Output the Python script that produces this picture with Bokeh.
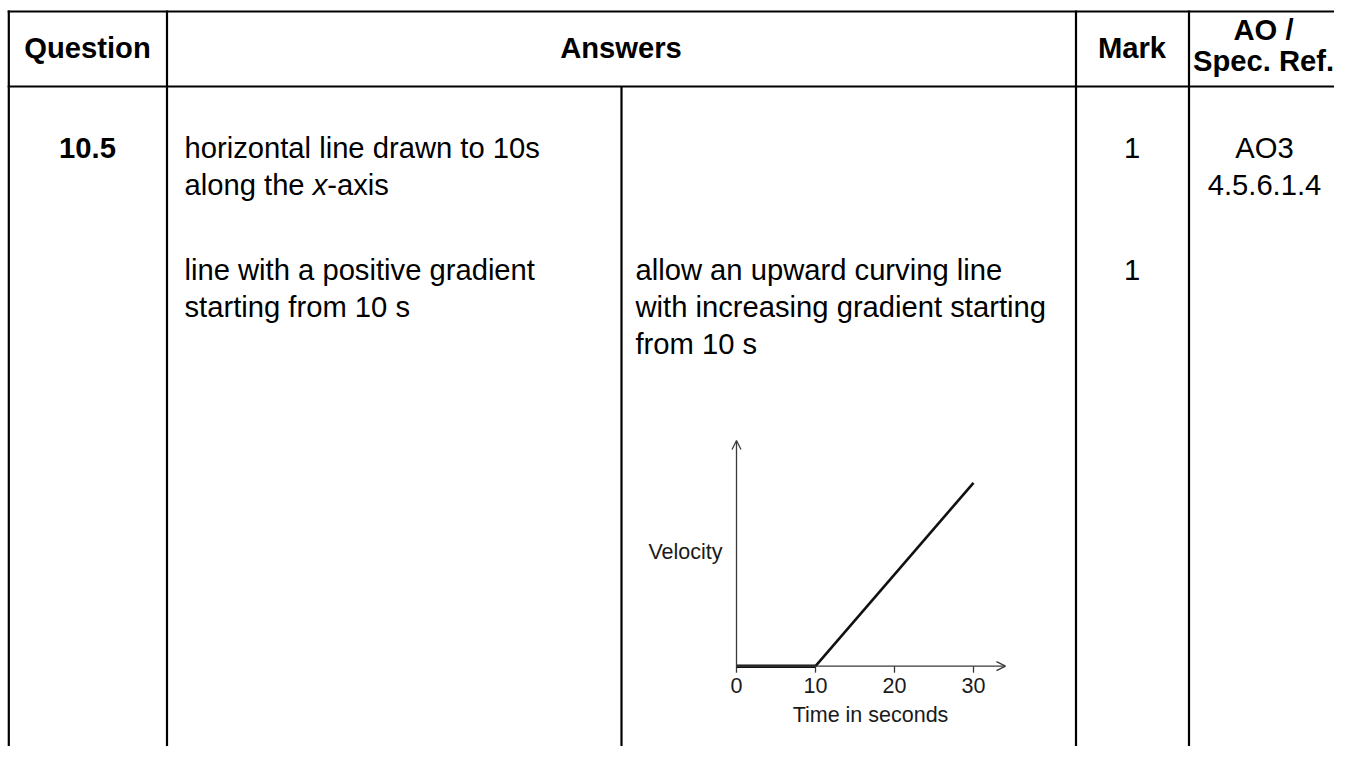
from bokeh.plotting import figure
from bokeh.models import Range1d, Arrow, OpenHead
from bokeh.core.properties import value
from bokeh.embed import file_html
from bokeh.resources import INLINE

# ---------------- data ----------------
header_labels = ["Question", "Answers", "Mark"]
header_ao = ["AO /", "Spec. Ref."]
question_id = "10.5"
answer1_lines = ["horizontal line drawn to 10s"]
answer1_line2 = ["along the ", "x", "-axis"]
answer2_lines = ["line with a positive gradient", "starting from 10 s"]
guidance_lines = ["allow an upward curving line",
                  "with increasing gradient starting",
                  "from 10 s"]
marks = ["1", "1"]
ao_lines = ["AO3", "4.5.6.1.4"]

# mini velocity-time sketch
time_s = [0, 10, 30]
velocity = [0, 0, 20]
time_ticks = [0, 10, 20, 30]
time_tick_labels = ["0", "10", "20", "30"]
x_title = "Time in seconds"
y_title = "Velocity"

# ---------------- layout ----------------
W, H = 1334, 746
X0, X1 = 0, W
Y0, Y1 = 0, H

FONT = value("Liberation Sans")
FS = "29.2px"
FS_SMALL = "21.5px"

p = figure(width=W, height=H, output_backend="svg", toolbar_location=None,
           x_range=Range1d(X0, X1), y_range=Range1d(Y1, Y0),
           x_axis_type=None, y_axis_type=None, min_border=0,
           outline_line_color=None, background_fill_color="white",
           border_fill_color="white")
p.grid.visible = False

# table rules
LW = 2.2
h_y = [11, 86]
p.segment(x0=[7.2] * 2, y0=h_y, x1=[1400] * 2, y1=h_y, line_color="black", line_width=LW)
v_x = [8.3, 166.5, 1075.5, 1188.5]
p.segment(x0=v_x, y0=[10] * 4, x1=v_x, y1=[800] * 4, line_color="black", line_width=LW)
p.segment(x0=[621], y0=[86], x1=[621], y1=[800], line_color="black", line_width=LW)


def txt(x, y, s, align="left", bold=False, italic=False, size=FS, color="black"):
    style = "bold" if bold else ("italic" if italic else "normal")
    p.text(x=[x], y=[y], text=[s], text_font=FONT, text_font_size=size,
           text_font_style=style, text_align=align, text_baseline="alphabetic",
           text_color=color)


# header
txt(87, 47, header_labels[0], "center", bold=True)
txt(620.5, 47, header_labels[1], "center", bold=True)
txt(1131.5, 47, header_labels[2], "center", bold=True)
txt(1263, 29, header_ao[0], "center", bold=True)
txt(1263, 60, header_ao[1], "center", bold=True)

# row content
R1, R2 = 147, 184
txt(87, R1, question_id, "center", bold=True)
txt(184, R1, answer1_lines[0])
txt(184, R2, answer1_line2[0])
txt(312.2, R2, answer1_line2[1], italic=True)
txt(326.8, R2, answer1_line2[2])
txt(1131.5, R1, marks[0], "center")
txt(1264, R1, ao_lines[0], "center")
txt(1264, R2, ao_lines[1], "center")

L1, DL = 269, 37
for i, s in enumerate(answer2_lines):
    txt(184, L1 + i * DL, s)
for i, s in enumerate(guidance_lines):
    txt(635, L1 + i * DL, s)
txt(1131.5, L1, marks[1], "center")

# ---------------- mini chart via its own scales ----------------
OX, OY = 736, 665.7          # origin on the page
PX_S, PX_V = 7.9, 9.17       # pixels per second / per velocity unit
p.extra_x_ranges = {"t": Range1d((X0 - OX) / PX_S, (X1 - OX) / PX_S)}
p.extra_y_ranges = {"v": Range1d((OY - Y1) / PX_V, (OY - Y0) / PX_V)}

AX_COL = "#3a3a3a"
t_end = (1005 - OX) / PX_S
v_end = (OY - 440) / PX_V
p.add_layout(Arrow(end=OpenHead(size=9, line_width=1.3, line_color=AX_COL),
                   x_start=0, y_start=0, x_end=t_end, y_end=0,
                   line_width=1.3, line_color=AX_COL,
                   x_range_name="t", y_range_name="v"))
p.add_layout(Arrow(end=OpenHead(size=9, line_width=1.3, line_color=AX_COL),
                   x_start=0, y_start=0, x_end=0, y_end=v_end,
                   line_width=1.3, line_color=AX_COL,
                   x_range_name="t", y_range_name="v"))

# ticks (x in time units, y in page pixels)
p.segment(x0=time_ticks, y0=[OY] * 4, x1=time_ticks, y1=[OY + 6.5] * 4,
          line_color=AX_COL, line_width=1.3, x_range_name="t")
p.text(x=time_ticks, y=[684.5] * 4, text=time_tick_labels, text_font=FONT,
       text_font_size=FS_SMALL, text_align="center", text_baseline="alphabetic",
       text_color="#1a1a1a", x_range_name="t")
p.text(x=[870], y=[714.5], text=[x_title], text_font=FONT, text_font_size=FS_SMALL,
       text_align="center", text_baseline="alphabetic", text_color="#1a1a1a")
p.text(x=[722], y=[551.5], text=[y_title], text_font=FONT, text_font_size=FS_SMALL,
       text_align="right", text_baseline="alphabetic", text_color="#1a1a1a")

# data line
p.line(time_s[:2], velocity[:2], line_color="#111111", line_width=3.6,
       x_range_name="t", y_range_name="v")
p.line(time_s[1:], velocity[1:], line_color="#111111", line_width=2.6,
       x_range_name="t", y_range_name="v")

open("out.html", "w").write(file_html(p, INLINE))
